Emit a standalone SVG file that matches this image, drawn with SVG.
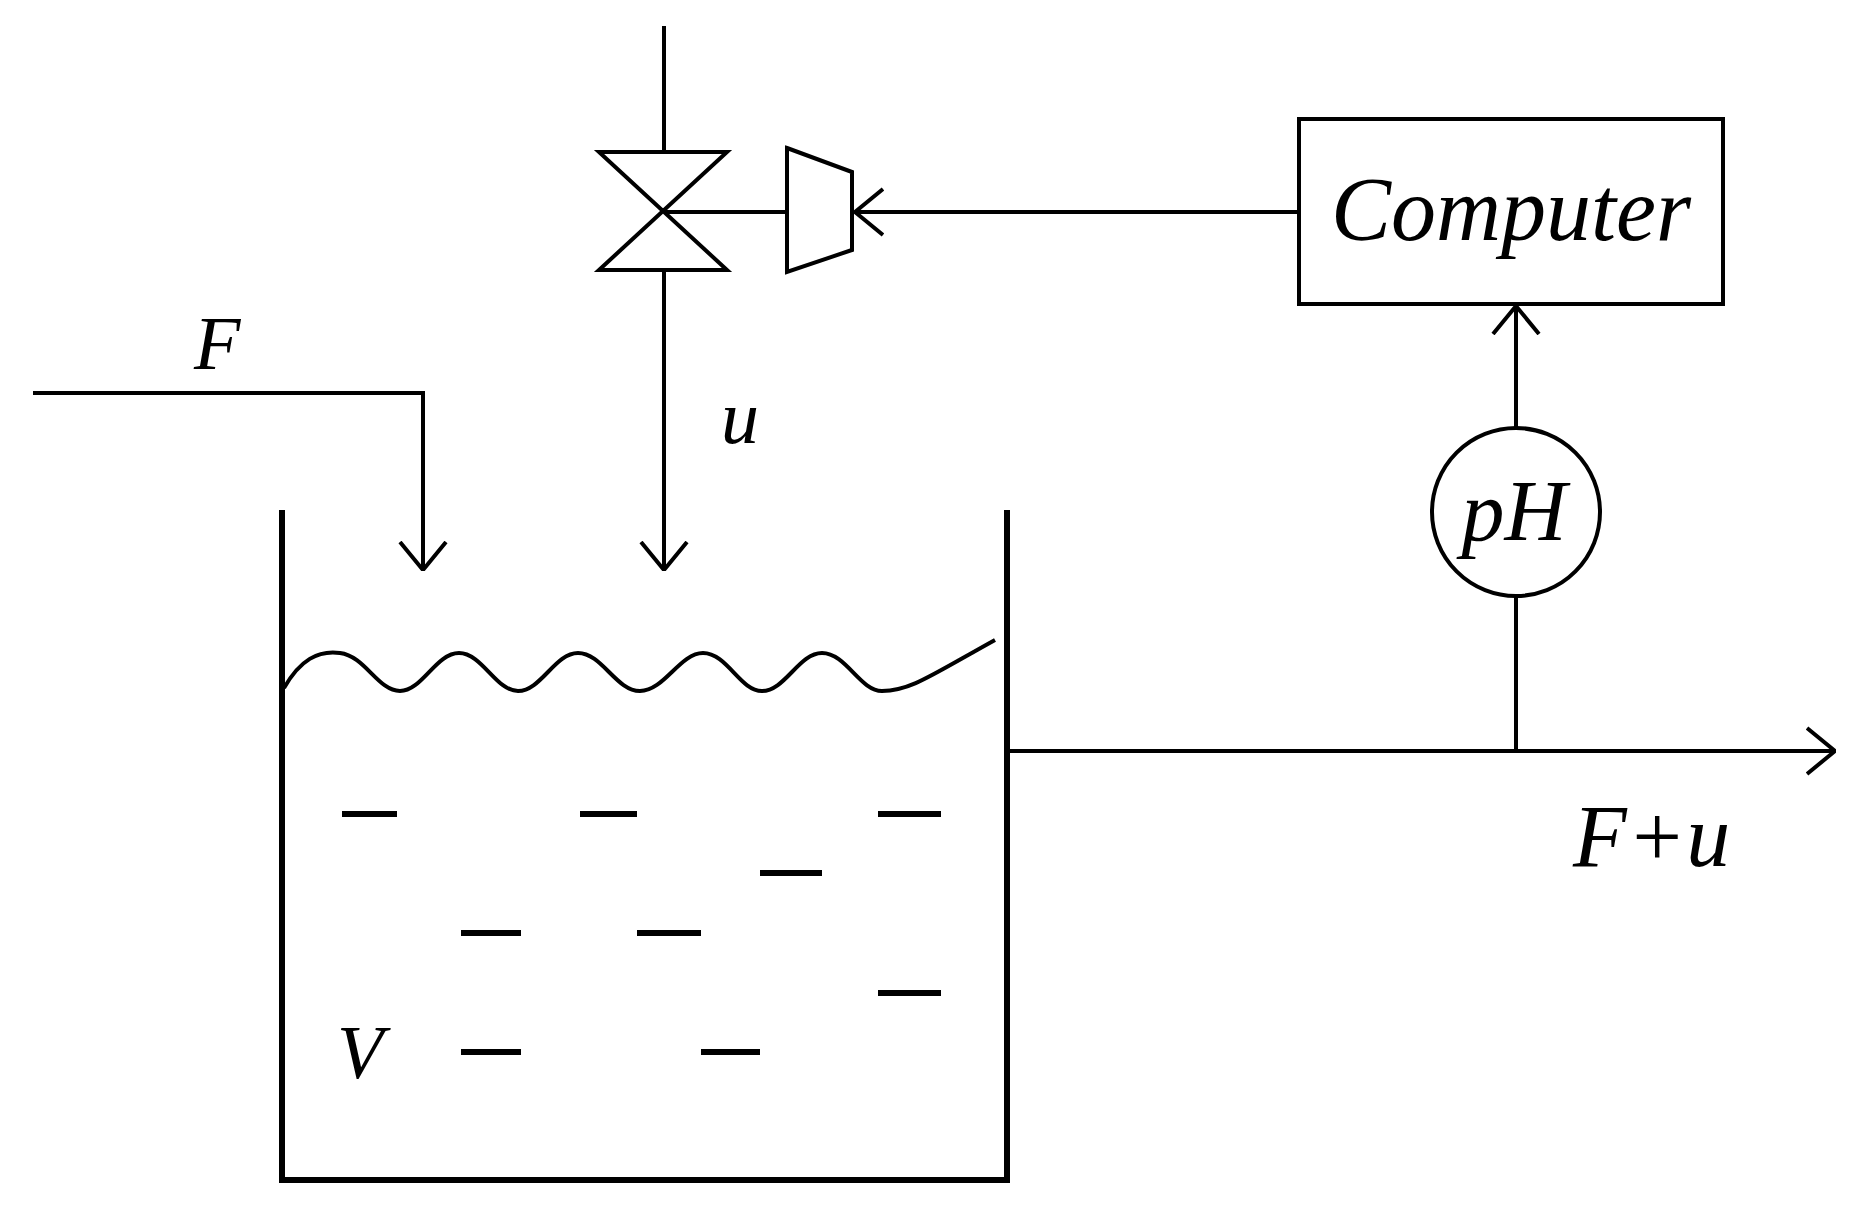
<svg xmlns="http://www.w3.org/2000/svg" width="1866" height="1210" viewBox="0 0 1866 1210">
<defs>
<style>
.l{stroke:#000;stroke-width:4;fill:none}
.w{stroke:#000;stroke-width:6;fill:none}
.t{font-family:"Liberation Serif",serif;font-style:italic;fill:#000}
</style>
<marker id="a" viewBox="0 0 30 50" refX="29" refY="25" markerWidth="30" markerHeight="50" markerUnits="userSpaceOnUse" orient="auto"><path d="M1,2 L29,25 L1,48" fill="none" stroke="#000" stroke-width="4"/></marker>
</defs>
<rect width="1866" height="1210" fill="#fff"/>
<g id="tank">
<path class="w" d="M282,510 V1180 H1007 V510"/>
<path class="l" stroke-width="4.5" d="M284,688 C300,660 318,650 340,653 C365,656 378,691 400,691 C422,691 436,653 459,653 C482,653 496,691 518,691 C541,691 555,653 578,653 C602,653 616,691 640,691 C664,691 680,653 703,653 C727,653 740,691 762,691 C785,691 799,653 822,653 C846,653 860,691 882,691 C910,691 930,676 995,640"/>
<g class="w" stroke-width="5">
<path d="M342,814H397M580,814H637M878,814H941M760,873H822M461,933H521M637,933H701M878,993H941M461,1052H521M701,1052H760"/>
</g>
<text class="t" x="337" y="1078" font-size="76">V</text>
</g>
<g id="valve">
<path class="l" d="M599,152 H727 L599,270 H727 Z" stroke-width="5"/>
<path class="l" d="M787,148 L852,172 V250 L787,272 Z" stroke-width="5"/>
</g>
<g id="computer">
<rect x="1299" y="119" width="424" height="185" class="l"/>
<text class="t" x="1511" y="240" font-size="90" text-anchor="middle">Computer</text>
</g>
<g id="ph">
<circle cx="1516" cy="512" r="84" class="l"/>
<text class="t" x="1514" y="540" font-size="86" text-anchor="middle">pH</text>
</g>
<g id="connectors">
<path class="l" d="M664,26 V151"/>
<path class="l" d="M664,270 V570" marker-end="url(#a)"/>
<path class="l" d="M665,212 H787"/>
<path class="l" d="M1299,212 H855" marker-end="url(#a)"/>
<path class="l" d="M33,393 H423 V570" marker-end="url(#a)"/>
<path class="l" d="M1007,751 H1835" marker-end="url(#a)"/>
<path class="l" d="M1516,751 V596"/>
<path class="l" d="M1516,428 V306" marker-end="url(#a)"/>
</g>
<text class="t" x="194" y="369" font-size="76">F</text>
<text class="t" x="721" y="443" font-size="76">u</text>
<text class="t" x="1573" y="866" font-size="88">F+u</text>
</svg>
